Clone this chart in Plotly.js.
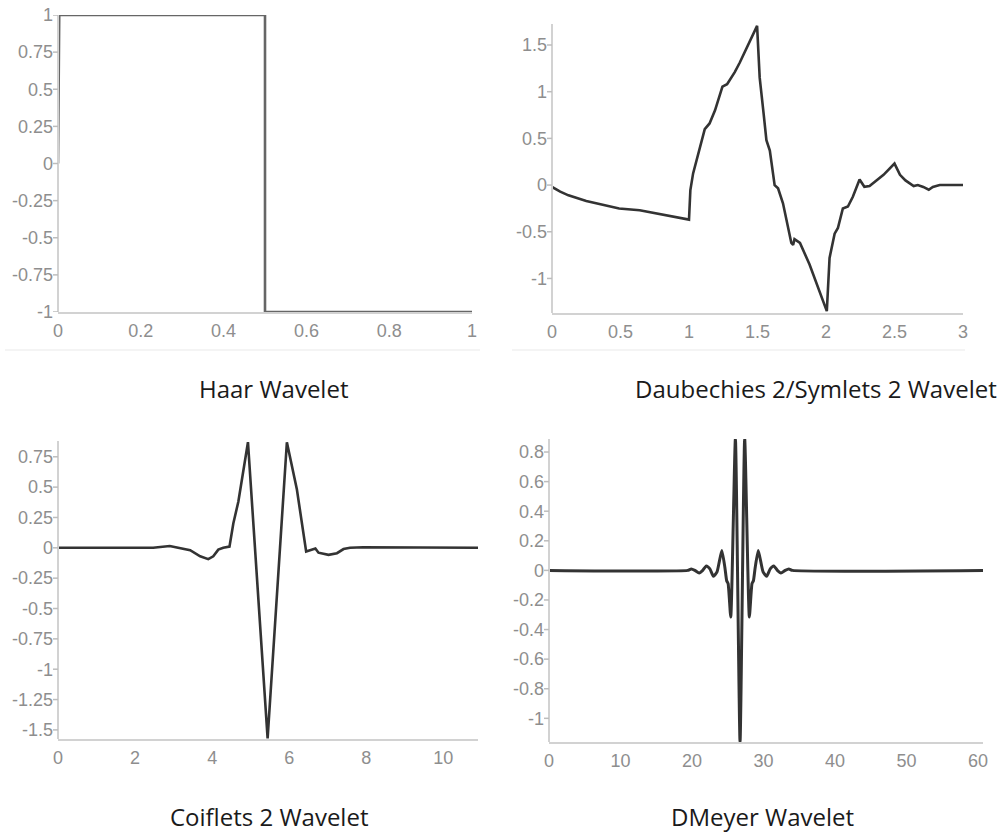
<!DOCTYPE html>
<html>
<head>
<meta charset="utf-8">
<script src="https://cdn.plot.ly/plotly-3.0.1.min.js"></script>
<style>html,body{margin:0;padding:0;background:#fff;}#chart{width:1004px;height:832px;}</style>
</head>
<body>
<div id="chart"></div>
<script>
// ---------- data ----------
var titles = ["Haar Wavelet", "Daubechies 2/Symlets 2 Wavelet", "Coiflets 2 Wavelet", "DMeyer Wavelet"];

var haarX = [0, 0.003, 0.5, 0.5, 1];
var haarY = [0, 1, 1, -1, -1];

var db2X = [0, 0.06, 0.12, 0.25, 0.49, 0.64, 1.0, 1.01, 1.03, 1.066, 1.115, 1.15, 1.19, 1.244, 1.278, 1.334, 1.37, 1.497,
            1.516, 1.545, 1.565, 1.59, 1.625, 1.65, 1.686, 1.747, 1.76, 1.77, 1.81, 1.88, 2.006,
            2.026, 2.063, 2.087, 2.123, 2.16, 2.196, 2.245, 2.28, 2.318, 2.39, 2.42, 2.5, 2.54, 2.58, 2.64, 2.67, 2.71, 2.75, 2.78, 2.83, 3.0];
var db2Y = [-0.02, -0.07, -0.11, -0.17, -0.25, -0.27, -0.37, -0.053, 0.125, 0.32, 0.6, 0.66, 0.8, 1.055, 1.08, 1.21, 1.31, 1.705,
            1.15, 0.76, 0.48, 0.37, 0, -0.035, -0.195, -0.62, -0.64, -0.58, -0.62, -0.85, -1.35,
            -0.78, -0.52, -0.46, -0.25, -0.23, -0.125, 0.06, -0.018, -0.01, 0.07, 0.11, 0.23, 0.11, 0.05, -0.01, 0, -0.02, -0.05, -0.02, 0, 0];

var coifX = [0, 1.5, 2.47, 2.9, 3.17, 3.43, 3.69, 3.9, 4.03, 4.16, 4.29, 4.45, 4.55, 4.68, 4.93, 5.44, 5.94, 6.2, 6.44, 6.55, 6.68, 6.76, 7.02, 7.24, 7.41, 7.58, 7.92, 10.9];
var coifY = [0, 0, 0, 0.015, 0, -0.02, -0.07, -0.093, -0.07, -0.015, 0, 0.01, 0.2, 0.38, 0.87, -1.57, 0.87, 0.48, -0.03, -0.02, -0.005, -0.04, -0.058, -0.044, -0.01, 0, 0.005, 0];

var dmeyX = [0, 19.4, 19.9, 20.4, 21.0, 21.5, 22.0, 22.5, 23.0, 23.5, 24.17, 24.6, 24.85, 25.05, 25.42, 26.07, 26.72,
             27.37, 28.02, 28.39, 28.59, 28.84, 29.27, 29.94, 30.44, 30.94, 31.44, 31.94, 32.44, 33.04, 33.54, 34.04, 60.7];
var dmeyY = [0, 0, 0.01, 0, -0.018, 0, 0.03, 0.01, -0.04, -0.01, 0.135, 0.02, -0.07, -0.09, -0.315, 0.89, -1.16,
             0.89, -0.315, -0.09, -0.07, 0.02, 0.135, -0.01, -0.04, 0.01, 0.03, 0, -0.018, 0, 0.01, 0, 0];

var haarXTicks = [0, 0.2, 0.4, 0.6, 0.8, 1];
var haarXText = ["0", "0.2", "0.4", "0.6", "0.8", "1"];
var haarYTicks = [-1, -0.75, -0.5, -0.25, 0, 0.25, 0.5, 0.75, 1];
var haarYText = ["-1", "-0.75", "-0.5", "-0.25", "0", "0.25", "0.5", "0.75", "1"];

var db2XTicks = [0, 0.5, 1, 1.5, 2, 2.5, 3];
var db2XText = ["0", "0.5", "1", "1.5", "2", "2.5", "3"];
var db2YTicks = [-1, -0.5, 0, 0.5, 1, 1.5];
var db2YText = ["-1", "-0.5", "0", "0.5", "1", "1.5"];

var coifXTicks = [0, 2, 4, 6, 8, 10];
var coifXText = ["0", "2", "4", "6", "8", "10"];
var coifYTicks = [-1.5, -1.25, -1, -0.75, -0.5, -0.25, 0, 0.25, 0.5, 0.75];
var coifYText = ["-1.5", "-1.25", "-1", "-0.75", "-0.5", "-0.25", "0", "0.25", "0.5", "0.75"];

var dmeyXTicks = [0, 10, 20, 30, 40, 50, 60];
var dmeyXText = ["0", "10", "20", "30", "40", "50", "60"];
var dmeyYTicks = [-1, -0.8, -0.6, -0.4, -0.2, 0, 0.2, 0.4, 0.6, 0.8];
var dmeyYText = ["-1", "-0.8", "-0.6", "-0.4", "-0.2", "0", "0.2", "0.4", "0.6", "0.8"];

// ---------- layout helpers ----------
var W = 1004, H = 832;
function px(a, b) { return [a / W, b / W]; }
function py(top, bottom) { return [1 - bottom / H, 1 - top / H]; }

var tickFont = {family: "Liberation Sans, Arial, sans-serif", size: 18, color: "#8e8e8e"};
var lineCol = "#d2d2d2";
var LABEL_SHIFT = -5; // free y axis: place labels so they end right at the tick marks

function xaxis(dom, range, tv, tt, anchor) {
  return {domain: dom, range: range, anchor: anchor, showline: true, linecolor: lineCol, linewidth: 2,
    showgrid: false, zeroline: false, tickmode: "array", tickvals: tv, ticktext: tt,
    ticks: "outside", ticklen: 1, tickcolor: "rgba(0,0,0,0)", tickfont: tickFont, fixedrange: true};
}
function yaxis(dom, range, tv, tt, leftPx) {
  return {domain: dom, range: range, anchor: "free", position: (leftPx + LABEL_SHIFT) / W, showline: false,
    showgrid: false, zeroline: false, tickmode: "array", tickvals: tv, ticktext: tt,
    ticks: "", tickfont: tickFont, fixedrange: true};
}
// axis line + small tick marks to the left of each y axis, placed at the tick values
function yAxisShapes(xref, yref, vals, frac) {
  var s = [{type: "line", xref: xref + " domain", yref: yref + " domain", x0: 0, x1: 0, y0: 0, y1: 1,
    line: {color: lineCol, width: 2}, layer: "above"}];
  return s.concat(vals.map(function (v) {
    return {type: "line", xref: xref + " domain", yref: yref, x0: -frac, x1: 0, y0: v, y1: v,
      line: {color: "#bdbdbd", width: 1.5}, layer: "above"};
  }));
}

var traces = [
  {x: haarX, y: haarY, xaxis: "x", yaxis: "y", mode: "lines", line: {color: "#666666", width: 2.6}, hoverinfo: "skip"},
  {x: db2X, y: db2Y, xaxis: "x2", yaxis: "y2", mode: "lines", line: {color: "#333333", width: 2.6}, hoverinfo: "skip"},
  {x: coifX, y: coifY, xaxis: "x3", yaxis: "y3", mode: "lines", line: {color: "#333333", width: 2.6}, hoverinfo: "skip"},
  {x: dmeyX, y: dmeyY, xaxis: "x4", yaxis: "y4", mode: "lines", line: {color: "#333333", width: 3, shape: "spline", smoothing: 0.5}, hoverinfo: "skip"}
];

var titleFont = {family: "Open Sans, Noto Sans, sans-serif", size: 24, color: "#1a1a1a"};

var shapes = [
  {type: "line", xref: "paper", yref: "paper", x0: 5 / W, x1: 480 / W, y0: 1 - 350 / H, y1: 1 - 350 / H, line: {color: "#f1f1f1", width: 1.5}},
  {type: "line", xref: "paper", yref: "paper", x0: 512 / W, x1: 965 / W, y0: 1 - 350 / H, y1: 1 - 350 / H, line: {color: "#f1f1f1", width: 1.5}}
].concat(yAxisShapes("x", "y", haarYTicks, 5 / 414))
 .concat(yAxisShapes("x2", "y2", db2YTicks, 5 / 411))
 .concat(yAxisShapes("x3", "y3", coifYTicks, 5 / 420))
 .concat(yAxisShapes("x4", "y4", dmeyYTicks, 5 / 434));

var layout = {
  width: W, height: H, margin: {l: 0, r: 0, t: 0, b: 0},
  paper_bgcolor: "#ffffff", plot_bgcolor: "#ffffff", showlegend: false,
  xaxis: xaxis(px(58, 472), [0, 1], haarXTicks, haarXText, "y"),
  yaxis: yaxis(py(15, 312), [-1, 1], haarYTicks, haarYText, 58),
  xaxis2: xaxis(px(552, 963), [0, 3], db2XTicks, db2XText, "y2"),
  yaxis2: yaxis(py(24, 313), [-1.37, 1.725], db2YTicks, db2YText, 552),
  xaxis3: xaxis(px(58, 478), [0, 10.9], coifXTicks, coifXText, "y3"),
  yaxis3: yaxis(py(441, 739), [-1.575, 0.88], coifYTicks, coifYText, 58),
  xaxis4: xaxis(px(549, 983), [0, 60.7], dmeyXTicks, dmeyXText, "y4"),
  yaxis4: yaxis(py(439, 742), [-1.16, 0.888], dmeyYTicks, dmeyYText, 549),
  annotations: [
    {text: titles[0], xref: "paper", yref: "paper", x: 273 / W, y: 1 - 389 / H, xanchor: "center", yanchor: "middle", showarrow: false, font: titleFont},
    {text: titles[1], xref: "paper", yref: "paper", x: 816 / W, y: 1 - 389 / H, xanchor: "center", yanchor: "middle", showarrow: false, font: titleFont},
    {text: titles[2], xref: "paper", yref: "paper", x: 269 / W, y: 1 - 816 / H, xanchor: "center", yanchor: "middle", showarrow: false, font: titleFont},
    {text: titles[3], xref: "paper", yref: "paper", x: 762 / W, y: 1 - 816 / H, xanchor: "center", yanchor: "middle", showarrow: false, font: titleFont}
  ],
  shapes: shapes
};

Plotly.newPlot("chart", traces, layout, {displayModeBar: false, staticPlot: true});
</script>
</body>
</html>
